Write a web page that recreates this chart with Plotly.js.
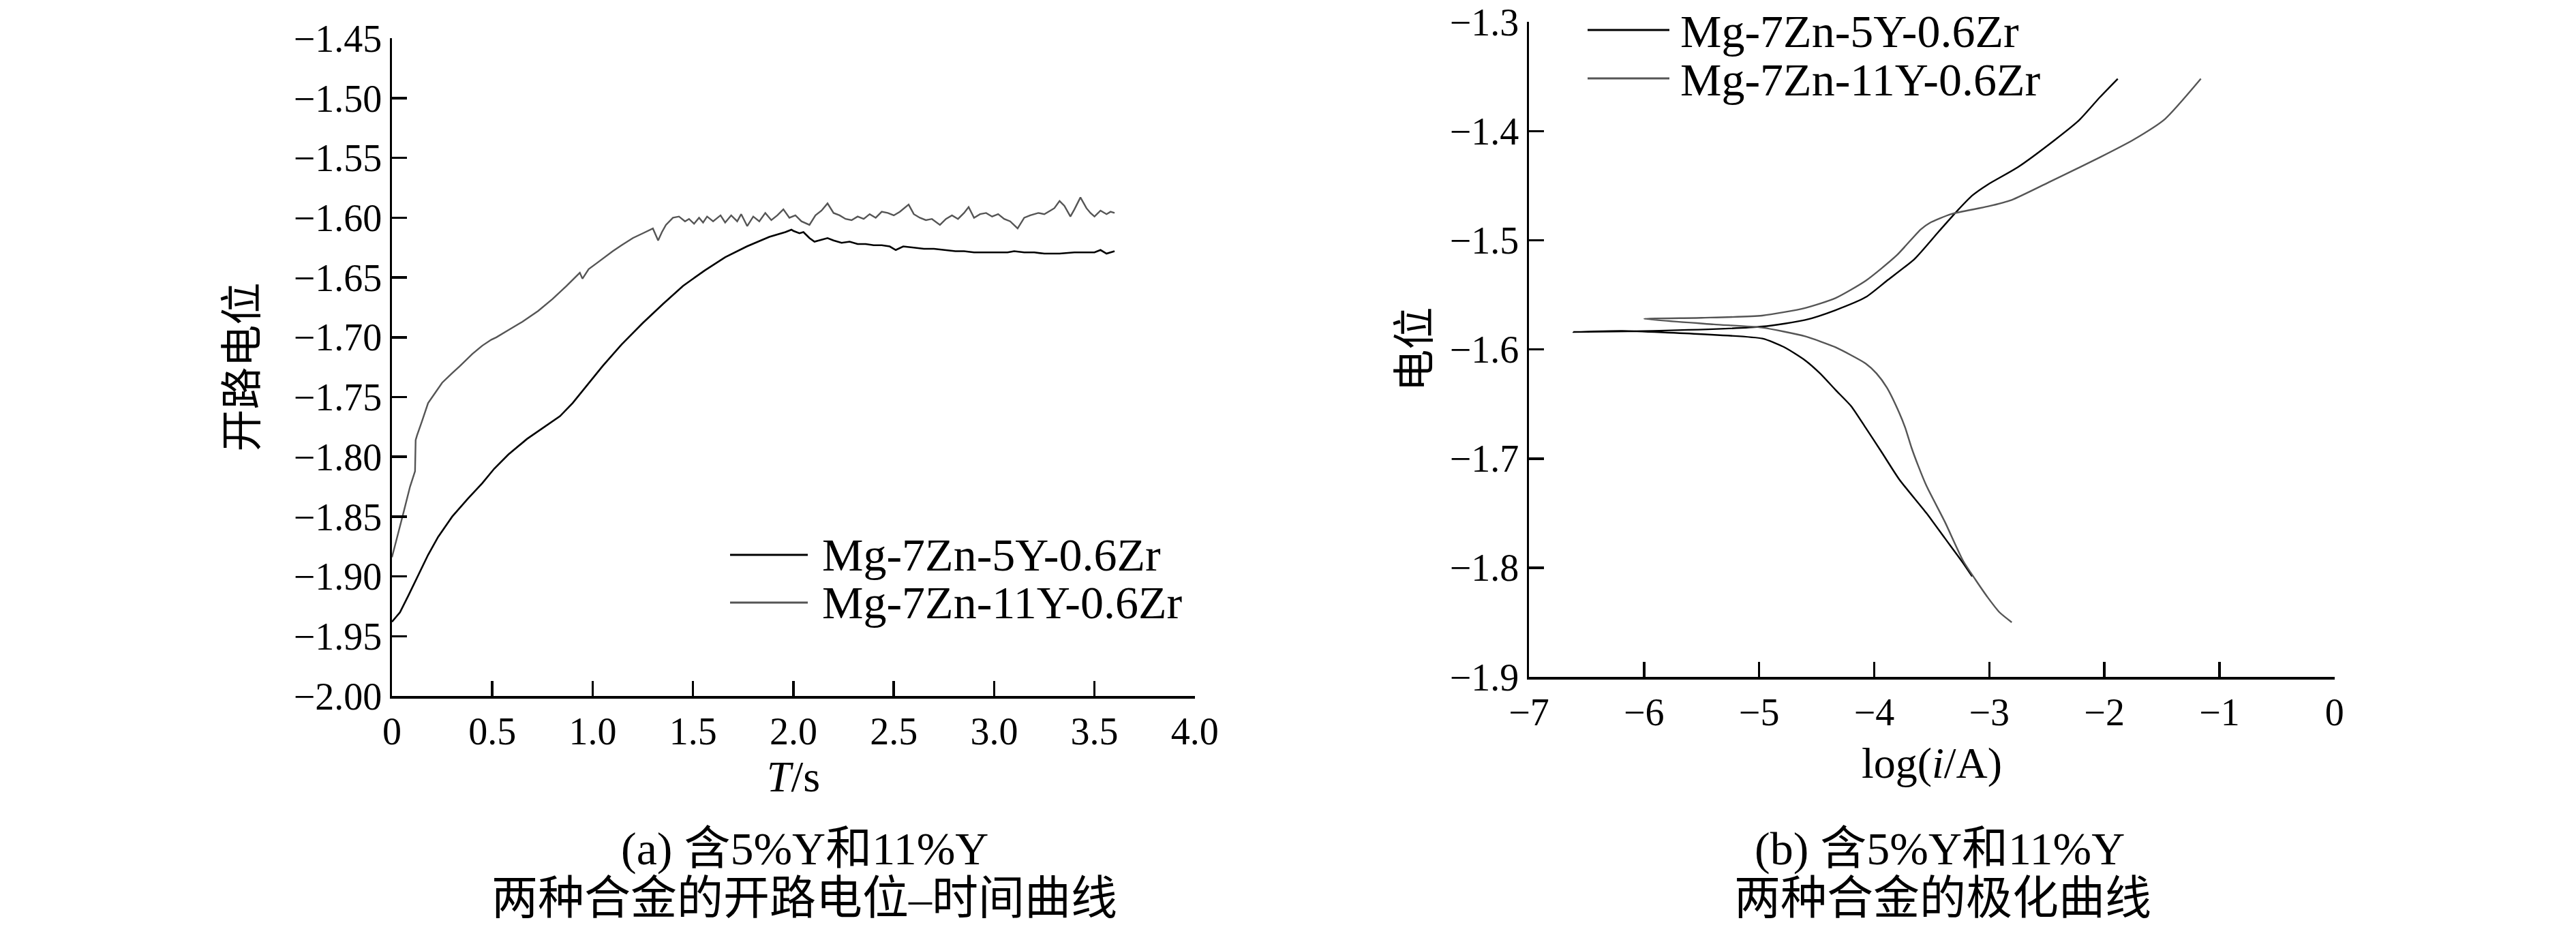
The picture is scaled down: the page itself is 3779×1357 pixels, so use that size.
<!DOCTYPE html>
<html>
<head>
<meta charset="utf-8">
<script src="https://cdn.plot.ly/plotly-3.0.1.min.js"></script>
<style>html,body{margin:0;padding:0;background:#fff;}#chart{width:3779px;height:1357px;}</style>
</head>
<body>
<div id="chart"></div>
<script>
// ---------- DATA ----------
const seriesNames = ["Mg-7Zn-5Y-0.6Zr", "Mg-7Zn-11Y-0.6Zr"];

// (a) open-circuit potential vs time
const ocpT_5Y = [0,0.04,0.082,0.131,0.18,0.23,0.30,0.378,0.45,0.509,0.58,0.673,0.75,0.837,0.90,0.949,1.05,1.144,1.25,1.351,1.45,1.559,1.66,1.768,1.88,1.96,1.99,
  2.00,2.03,2.05,2.08,2.105,2.13,2.17,2.20,2.24,2.28,2.32,2.36,2.40,2.44,2.48,2.51,2.547,2.60,2.65,2.70,2.75,2.807,2.85,2.90,2.95,3.00,3.067,3.10,3.15,3.20,3.25,3.30,3.326,3.40,3.45,3.50,3.53,3.56,3.60];
const ocpV_5Y = [-1.938,-1.930,-1.916,-1.899,-1.882,-1.867,-1.850,-1.835,-1.822,-1.810,-1.798,-1.785,-1.776,-1.766,-1.755,-1.745,-1.724,-1.706,-1.688,-1.672,-1.657,-1.644,-1.633,-1.624,-1.616,-1.612,-1.610,
  -1.611,-1.613,-1.612,-1.617,-1.620,-1.619,-1.617,-1.619,-1.621,-1.620,-1.622,-1.622,-1.623,-1.623,-1.624,-1.627,-1.624,-1.625,-1.626,-1.626,-1.627,-1.628,-1.628,-1.629,-1.629,-1.629,-1.629,-1.628,-1.629,-1.629,-1.630,-1.630,-1.630,-1.629,-1.629,-1.629,-1.627,-1.630,-1.628];

const ocpT_11Y = [0,0.03,0.06,0.09,0.115,0.118,0.125,0.15,0.18,0.209,0.25,0.30,0.339,0.40,0.45,0.495,0.52,0.58,0.65,0.728,0.80,0.87,0.936,0.949,0.98,1.02,1.066,1.10,1.144,1.20,1.25,1.287,1.30,1.326,1.345,1.365,
  1.40,1.43,1.46,1.48,1.505,1.53,1.55,1.57,1.60,1.637,1.66,1.69,1.72,1.74,1.77,1.80,1.83,1.86,1.89,1.92,1.95,1.98,2.01,2.04,2.08,2.11,2.14,2.17,2.20,2.23,2.26,2.29,2.32,2.35,2.38,2.41,2.44,2.47,2.50,2.53,2.574,2.60,2.63,2.66,2.69,2.73,2.76,2.79,2.82,2.85,2.873,2.90,2.93,2.96,2.99,3.02,3.05,3.08,3.117,3.15,3.18,3.22,3.25,3.28,3.30,3.326,3.35,3.38,3.40,3.43,3.46,3.48,3.50,3.53,3.56,3.58,3.60];
const ocpV_11Y = [-1.884,-1.865,-1.845,-1.825,-1.812,-1.786,-1.782,-1.770,-1.755,-1.748,-1.738,-1.730,-1.724,-1.714,-1.707,-1.702,-1.700,-1.694,-1.687,-1.678,-1.668,-1.657,-1.646,-1.651,-1.643,-1.638,-1.632,-1.628,-1.623,-1.617,-1.613,-1.610,-1.609,-1.619,-1.612,-1.606,
  -1.600,-1.599,-1.603,-1.601,-1.605,-1.600,-1.604,-1.599,-1.603,-1.598,-1.604,-1.598,-1.603,-1.597,-1.607,-1.599,-1.603,-1.596,-1.602,-1.598,-1.593,-1.600,-1.598,-1.603,-1.606,-1.598,-1.594,-1.588,-1.596,-1.598,-1.601,-1.602,-1.599,-1.601,-1.597,-1.600,-1.595,-1.596,-1.598,-1.595,-1.589,-1.597,-1.600,-1.602,-1.601,-1.606,-1.601,-1.598,-1.601,-1.596,-1.591,-1.600,-1.597,-1.596,-1.599,-1.597,-1.601,-1.603,-1.609,-1.600,-1.598,-1.596,-1.597,-1.594,-1.592,-1.586,-1.590,-1.599,-1.593,-1.583,-1.592,-1.596,-1.599,-1.594,-1.597,-1.595,-1.596];

// (b) polarization curves: log(i/A) vs potential (cathodic branch reversed, then anodic branch)
const polLogI_5Y = [-3.149,-3.226,-3.386,-3.546,-3.783,-3.93,-4.073,-4.20,-4.337,-4.47,-4.60,-4.78,-4.972,-5.5,-6.188,-6.614,
  -5.924,-4.974,-4.60,-4.337,-4.073,-3.89,-3.649,-3.44,-3.279,-3.149,-3.015,-2.752,-2.43,-2.22,-2.04,-1.884];
const polE_5Y = [-1.808,-1.796,-1.773,-1.750,-1.719,-1.695,-1.672,-1.652,-1.637,-1.622,-1.610,-1.598,-1.590,-1.586,-1.583,-1.584,
  -1.583,-1.579,-1.573,-1.564,-1.552,-1.537,-1.517,-1.492,-1.473,-1.459,-1.449,-1.433,-1.408,-1.390,-1.369,-1.352];

const polLogI_11Y = [-2.805,-2.91,-3.015,-3.12,-3.226,-3.386,-3.546,-3.62,-3.676,-3.73,-3.783,-3.89,-3.98,-4.073,-4.337,-4.60,-4.974,-5.394,-6.0,
  -5.5,-4.974,-4.60,-4.337,-4.073,-3.807,-3.596,-3.517,-3.333,-3.015,-2.805,-2.486,-2.04,-1.75,-1.475,-1.162];
const polE_11Y = [-1.850,-1.841,-1.827,-1.811,-1.794,-1.758,-1.725,-1.706,-1.690,-1.672,-1.658,-1.635,-1.622,-1.613,-1.598,-1.588,-1.580,-1.577,-1.572,
  -1.571,-1.569,-1.562,-1.553,-1.537,-1.514,-1.490,-1.484,-1.476,-1.469,-1.463,-1.447,-1.424,-1.408,-1.389,-1.352];

// tick labels
const ax1XTicks = [0,0.5,1,1.5,2,2.5,3,3.5,4];
const ax1XLabels = ["0","0.5","1.0","1.5","2.0","2.5","3.0","3.5","4.0"];
const ax1YTicks = [-2.0,-1.95,-1.9,-1.85,-1.8,-1.75,-1.7,-1.65,-1.6,-1.55,-1.5,-1.45];
const ax1YLabels = ["−2.00","−1.95","−1.90","−1.85","−1.80","−1.75","−1.70","−1.65","−1.60","−1.55","−1.50","−1.45"];
const ax2XTicks = [-7,-6,-5,-4,-3,-2,-1,0];
const ax2XLabels = ["−7","−6","−5","−4","−3","−2","−1","0"];
const ax2YTicks = [-1.9,-1.8,-1.7,-1.6,-1.5,-1.4,-1.3];
const ax2YLabels = ["−1.9","−1.8","−1.7","−1.6","−1.5","−1.4","−1.3"];

const titles = {
  a_y: "开路电位", a_x: "<i>T</i>/s",
  b_y: "电位", b_x: "log(<i>i</i>/A)",
  a_cap1: "(a) 含5%Y和11%Y", a_cap2: "两种合金的开路电位–时间曲线",
  b_cap1: "(b) 含5%Y和11%Y", b_cap2: "两种合金的极化曲线"
};

// ---------- STYLE ----------
const W = 3779, H = 1357;
const FONT = "'Liberation Serif','Times New Roman','Noto Sans CJK SC',serif";
const C5 = "#000000", C11 = "#555555";
const px = x => x / W, py = y => 1 - y / H;

const traces = [
  {x: ocpT_5Y, y: ocpV_5Y, xaxis: "x", yaxis: "y", mode: "lines", name: seriesNames[0], line: {color: C5, width: 2.6}, showlegend: false},
  {x: ocpT_11Y, y: ocpV_11Y, xaxis: "x", yaxis: "y", mode: "lines", name: seriesNames[1], line: {color: C11, width: 2.4}, showlegend: false},
  {x: polLogI_5Y, y: polE_5Y, xaxis: "x2", yaxis: "y2", mode: "lines", name: seriesNames[0], line: {color: C5, width: 2.4, shape: "spline", smoothing: 0.6}, showlegend: false},
  {x: polLogI_11Y, y: polE_11Y, xaxis: "x2", yaxis: "y2", mode: "lines", name: seriesNames[1], line: {color: C11, width: 2.4, shape: "spline", smoothing: 0.6}, showlegend: false}
];

const axBase = {
  showgrid: false, zeroline: false, showline: true, linecolor: "#000", linewidth: 3.5,
  ticks: "inside", ticklen: 22, tickwidth: 3.5, tickcolor: "#000", ticklabeloverflow: "allow",
  tickfont: {family: FONT, size: 56, color: "#000"}, mirror: false, fixedrange: true
};

const layout = {
  width: W, height: H, margin: {l: 0, r: 0, t: 0, b: 0},
  paper_bgcolor: "#fff", plot_bgcolor: "#fff", showlegend: false,
  font: {family: FONT, color: "#000"},
  xaxis: Object.assign({}, axBase, {domain: [px(575), px(1753)], range: [0, 4.0005], anchor: "y",
    tickvals: ax1XTicks, ticktext: ax1XLabels,
    title: {text: titles.a_x, font: {family: FONT, size: 64}, standoff: 12}}),
  yaxis: Object.assign({}, axBase, {domain: [py(1021), py(56)], range: [-2.0, -1.4498], anchor: "x",
    tickvals: ax1YTicks, ticktext: ax1YLabels,
    title: {text: titles.a_y, font: {family: FONT, size: 62}, standoff: 34}}),
  xaxis2: Object.assign({}, axBase, {domain: [px(2243), px(3425)], range: [-7, 0.001], anchor: "y2",
    tickvals: ax2XTicks, ticktext: ax2XLabels,
    title: {text: titles.b_x, font: {family: FONT, size: 64}, standoff: 22}}),
  yaxis2: Object.assign({}, axBase, {domain: [py(993), py(32)], range: [-1.9, -1.2998], anchor: "x2",
    tickvals: ax2YTicks, ticktext: ax2YLabels,
    title: {text: titles.b_y, font: {family: FONT, size: 62}, standoff: 10}}),
  shapes: [
    {type: "line", xref: "paper", yref: "paper", x0: px(1071), x1: px(1185), y0: py(814), y1: py(814), line: {color: C5, width: 3}},
    {type: "line", xref: "paper", yref: "paper", x0: px(1071), x1: px(1185), y0: py(884), y1: py(884), line: {color: C11, width: 3}},
    {type: "line", xref: "paper", yref: "paper", x0: px(2329), x1: px(2449), y0: py(44), y1: py(44), line: {color: C5, width: 3}},
    {type: "line", xref: "paper", yref: "paper", x0: px(2329), x1: px(2449), y0: py(115), y1: py(115), line: {color: C11, width: 3}}
  ],
  annotations: [
    {text: seriesNames[0], xref: "paper", yref: "paper", x: px(1204), y: py(814), xanchor: "left", yanchor: "middle", showarrow: false, font: {family: FONT, size: 68}},
    {text: seriesNames[1], xref: "paper", yref: "paper", x: px(1204), y: py(884), xanchor: "left", yanchor: "middle", showarrow: false, font: {family: FONT, size: 68}},
    {text: seriesNames[0], xref: "paper", yref: "paper", x: px(2463), y: py(46), xanchor: "left", yanchor: "middle", showarrow: false, font: {family: FONT, size: 68}},
    {text: seriesNames[1], xref: "paper", yref: "paper", x: px(2463), y: py(117), xanchor: "left", yanchor: "middle", showarrow: false, font: {family: FONT, size: 68}},
    {text: titles.a_cap1, xref: "paper", yref: "paper", x: px(1180), y: py(1245), xanchor: "center", yanchor: "middle", showarrow: false, font: {family: FONT, size: 68}},
    {text: titles.a_cap2, xref: "paper", yref: "paper", x: px(1180), y: py(1318), xanchor: "center", yanchor: "middle", showarrow: false, font: {family: FONT, size: 68}},
    {text: titles.b_cap1, xref: "paper", yref: "paper", x: px(2845), y: py(1245), xanchor: "center", yanchor: "middle", showarrow: false, font: {family: FONT, size: 68}},
    {text: titles.b_cap2, xref: "paper", yref: "paper", x: px(2850), y: py(1318), xanchor: "center", yanchor: "middle", showarrow: false, font: {family: FONT, size: 68}}
  ]
};

Plotly.newPlot("chart", traces, layout, {staticPlot: true, displayModeBar: false});
</script>
</body>
</html>
